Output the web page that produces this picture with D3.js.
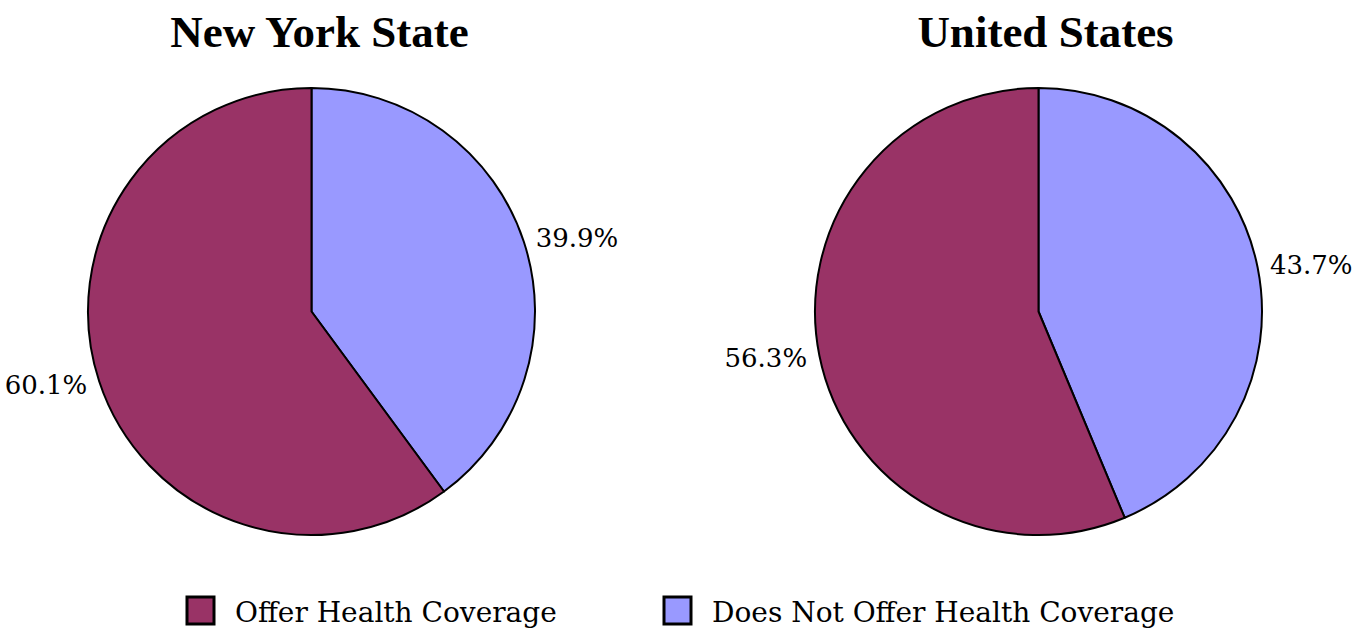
<!DOCTYPE html>
<html lang="en">
<head>
    <meta charset="UTF-8">
    <title>Health Coverage Pie Charts</title>
    <style>
    html, body {
        margin: 0;
        padding: 0;
        background-color: white;
    }

    svg {
        display: block;
    }

    .title {
        font-family: "Liberation Serif", serif;
        font-weight: bold;
        font-size: 45px;
        fill: black;
    }

    .pct {
        font-family: "DejaVu Serif", serif;
        font-size: 26px;
        fill: black;
    }

    .legend-text {
        font-family: "DejaVu Serif", serif;
        font-size: 28px;
        fill: black;
    }
    </style>
    <script src="https://d3js.org/d3.v7.min.js"></script>
</head>
<body>
    <svg id="canvas"></svg>

    <script>
    // Data
    let categories = ['Offer Health Coverage', 'Does Not Offer Health Coverage'];
    let regions = ['New York State', 'United States'];
    let nyValues = [60.1, 39.9];
    let usValues = [56.3, 43.7];
    let colors = ['#993366', '#9999ff'];

    let width = 1353;
    let height = 629;
    let radius = 223.5;
    let labelRadius = 236;
    let centers = [[311.5, 311.5], [1038.5, 311.5]];

    let svg = d3.select('svg')
        .attr('width', width)
        .attr('height', height);

    let color = d3.scaleOrdinal()
        .domain(categories)
        .range(colors);

    // "does not offer" slice starts at 12 o'clock and runs clockwise
    let pie = d3.pie()
        .sort(null)
        .value((d) => d.value);

    let arc = d3.arc()
        .innerRadius(0)
        .outerRadius(radius);

    let drawPie = (values, title, center, titleOffset) => {
        let items = categories.map((c, i) => ({ cat: c, value: values[i] }));
        let ordered = [items[1], items[0]];

        let g = svg.append('g')
            .attr('transform', 'translate(' + center[0] + ',' + center[1] + ')');

        let arcs = pie(ordered);

        g.selectAll('path')
            .data(arcs)
            .enter()
            .append('path')
            .attr('d', arc)
            .attr('fill', (d) => color(d.data.cat))
            .attr('stroke', 'black')
            .attr('stroke-width', 2)
            .attr('stroke-linejoin', 'round');

        g.selectAll('text.pct')
            .data(arcs)
            .enter()
            .append('text')
            .attr('class', 'pct')
            .attr('x', (d) => {
                let a = (d.startAngle + d.endAngle) / 2;
                return labelRadius * Math.sin(a);
            })
            .attr('y', (d) => {
                let a = (d.startAngle + d.endAngle) / 2;
                return -labelRadius * Math.cos(a);
            })
            .attr('dy', '0.35em')
            .attr('text-anchor', (d) => {
                let a = (d.startAngle + d.endAngle) / 2;
                return Math.sin(a) >= 0 ? 'start' : 'end';
            })
            .text((d) => d.data.value.toFixed(1) + '%');

        svg.append('text')
            .attr('class', 'title')
            .attr('x', center[0] + titleOffset)
            .attr('y', 47)
            .attr('text-anchor', 'middle')
            .text(title);
    };

    drawPie(nyValues, regions[0], centers[0], 8);
    drawPie(usValues, regions[1], centers[1], 7);

    // Legend
    let legendX = [187, 664];
    let legend = svg.selectAll('g.legend')
        .data(categories)
        .enter()
        .append('g')
        .attr('class', 'legend')
        .attr('transform', (d, i) => 'translate(' + legendX[i] + ', 597)');

    legend.append('rect')
        .attr('width', 27)
        .attr('height', 27)
        .attr('fill', (d) => color(d))
        .attr('stroke', 'black')
        .attr('stroke-width', 3);

    legend.append('text')
        .attr('class', 'legend-text')
        .attr('x', 48)
        .attr('y', 25)
        .text((d) => d);
    </script>
</body>
</html>
